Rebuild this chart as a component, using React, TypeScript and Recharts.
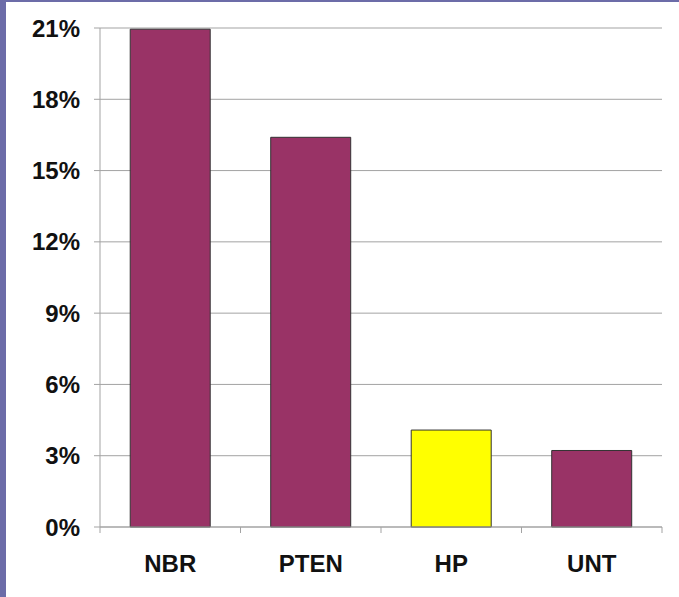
import { Bar, BarChart, CartesianGrid, Cell, XAxis, YAxis } from 'recharts';

const categories = ['NBR', 'PTEN', 'HP', 'UNT'];
const values = [20.95, 16.4, 4.08, 3.22];
const highlighted = ['HP'];
const yTicks = [0, 3, 6, 9, 12, 15, 18, 21];

const data = categories.map((name, i) => ({ name, value: values[i] }));

const PLUM = '#993366';
const YELLOW = '#ffff00';
const GRID = '#a3a3a3';
const FONT = { fontFamily: '"Liberation Sans", Arial, sans-serif', fontWeight: 700, fontSize: 24, fill: '#111' };
const TICK_MARGIN = 28;
const EDGE_TICK = 6;

// category label plus the short tick marks at the band edges
function CategoryTick(props: any) {
  const { x, y, payload, index, visibleTicksCount, width } = props;
  const half = width / visibleTicksCount / 2;
  const top = y - TICK_MARGIN;
  const last = index === visibleTicksCount - 1;
  return (
    <g>
      <line x1={x - half} x2={x - half} y1={top} y2={top + EDGE_TICK} stroke={GRID} />
      {last && <line x1={x + half} x2={x + half} y1={top} y2={top + EDGE_TICK} stroke={GRID} />}
      <text x={x} y={y} dy="0.71em" textAnchor="middle" {...FONT}>
        {payload.value}
      </text>
    </g>
  );
}

export default function App() {
  return (
    <div style={{ position: 'absolute', left: 0, top: 0, width: 679, height: 597, background: '#fff' }}>
      <BarChart
        width={679}
        height={597}
        data={data}
        margin={{ top: 28, right: 17, left: 0, bottom: 0 }}
        barCategoryGap="21.5%"
      >
        <CartesianGrid stroke={GRID} vertical={false} />
        <XAxis
          dataKey="name"
          height={70}
          tickLine={false}
          stroke={GRID}
          tickSize={0}
          tickMargin={TICK_MARGIN}
          interval={0}
          tick={<CategoryTick />}
        />
        <YAxis
          domain={[0, 21]}
          ticks={yTicks}
          tickFormatter={(v: number) => `${v}%`}
          width={100}
          tickSize={6}
          tickMargin={14}
          stroke={GRID}
          tick={FONT}
        />
        <Bar dataKey="value" stroke="#333" strokeWidth={1} isAnimationActive={false}>
          {data.map((d) => (
            <Cell key={d.name} fill={highlighted.includes(d.name) ? YELLOW : PLUM} />
          ))}
        </Bar>
      </BarChart>
      <div style={{ position: 'absolute', left: 0, top: 0, width: 6, height: 597, background: '#6c6ca8' }} />
      <div style={{ position: 'absolute', left: 0, top: 0, width: 679, height: 2, background: '#6c6ca8' }} />
    </div>
  );
}
